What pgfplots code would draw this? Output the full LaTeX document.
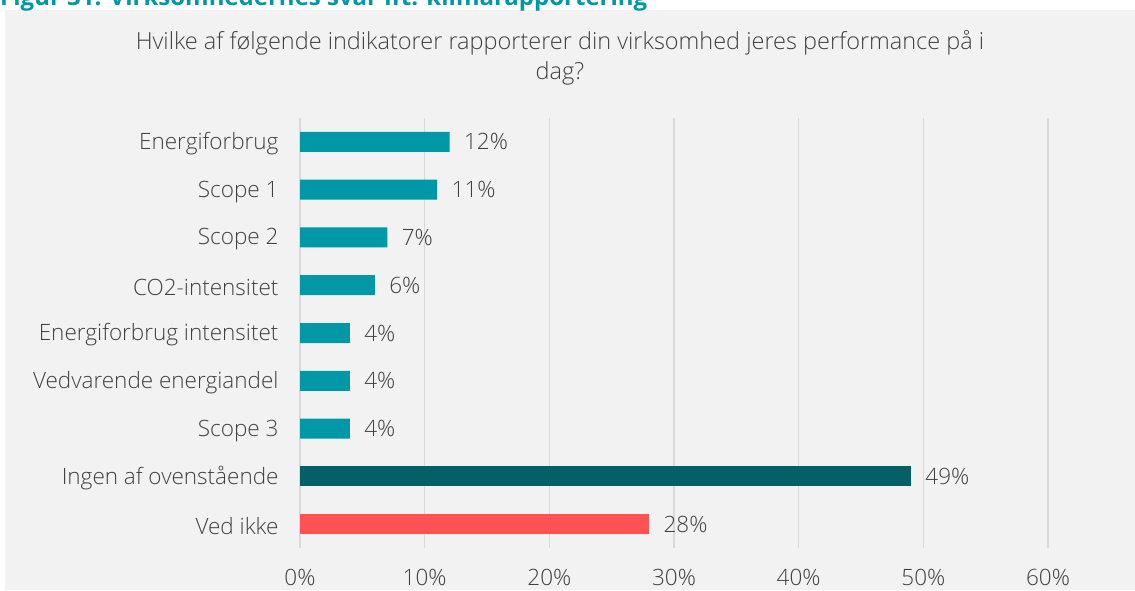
\documentclass[border=0pt]{standalone}
\usepackage{fontspec}
\setmainfont{Open Sans Light}[BoldFont=Open Sans Bold]
\usepackage{pgfplots}
\pgfplotsset{compat=1.18}
\definecolor{panel}{HTML}{F2F2F2}
\definecolor{teal1}{HTML}{0097A7}
\definecolor{teal2}{HTML}{045F66}
\definecolor{coral}{HTML}{FF5252}
\definecolor{gridgray}{HTML}{D9D9D9}
\definecolor{txt}{HTML}{404040}
\begin{document}
\begin{tikzpicture}[x=1pt,y=1pt]
\useasboundingbox (0,0) rectangle (1135,590);
\fill[white] (0,0) rectangle (1135,590);
\fill[panel] (5,0) rectangle (1135,580);
\node[anchor=base west, inner sep=0, text=teal1, font=\bfseries\fontsize{24}{24}\selectfont] at (0,584) {Figur 31: Virksomhedernes svar ift. klimarapportering};
\node[align=center, text=txt, font=\fontsize{23.5}{30}\selectfont] at (560,532) {Hvilke af følgende indikatorer rapporterer din virksomhed jeres performance på i\\dag?};
\begin{axis}[
  at={(300pt,42pt)}, anchor=south west, scale only axis,
  width=748pt, height=430pt,
  xmin=0, xmax=60, ymin=-0.5, ymax=8.5, y dir=reverse,
  xtick={0,10,...,60}, xmajorgrids, grid style={line width=1.5pt, draw=gridgray},
  axis line style={draw=none}, major tick length=0pt,
  ytick={0,...,8},
  yticklabels={Energiforbrug,Scope 1,Scope 2,CO2-intensitet,Energiforbrug intensitet,Vedvarende energiandel,Scope 3,Ingen af ovenstående,Ved ikke},
  xticklabel={\pgfmathprintnumber{\tick}\%},
  /pgf/number format/assume math mode=true,
  ticklabel style={font=\fontsize{22.5}{26}\selectfont, text=txt},
  xticklabel style={yshift=-18pt},
  yticklabel style={xshift=-18pt, yshift=-2pt},
  xbar, bar width=20pt, bar shift=0pt,
  nodes near coords={\pgfmathprintnumber{\pgfplotspointmeta}\%},
  nodes near coords style={font=\fontsize{22.5}{26}\selectfont, text=txt, anchor=west, xshift=11pt},
  point meta=x,
]
\addplot[fill=teal1, draw=none] coordinates {(12,0) (11,1) (7,2) (6,3) (4,4) (4,5) (4,6)};
\addplot[fill=teal2, draw=none] coordinates {(49,7)};
\addplot[fill=coral, draw=none] coordinates {(28,8)};
\end{axis}
\end{tikzpicture}
\end{document}
